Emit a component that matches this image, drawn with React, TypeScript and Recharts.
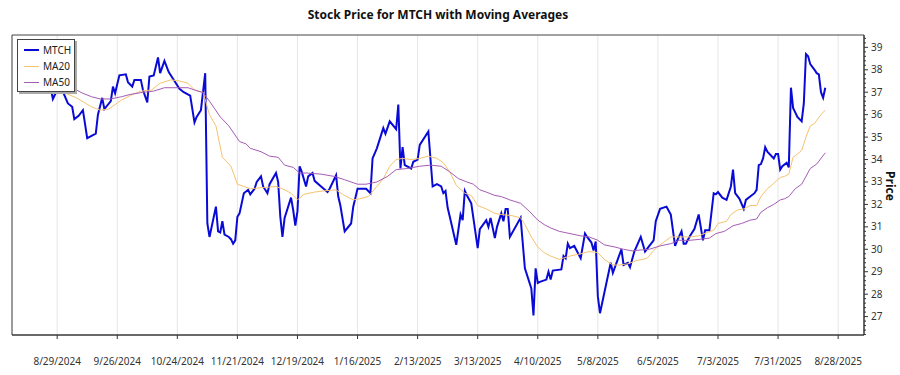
import React from 'react';
import { LineChart, Line, XAxis, YAxis, CartesianGrid, ReferenceArea } from 'recharts';

// MTCH daily close
const mtchDates = [
  '2024-08-26', '2024-08-27', '2024-08-29', '2024-09-01', '2024-09-03', '2024-09-05', '2024-09-06', '2024-09-08',
  '2024-09-10', '2024-09-12', '2024-09-16', '2024-09-17', '2024-09-19', '2024-09-20', '2024-09-23', '2024-09-24',
  '2024-09-25', '2024-09-27', '2024-09-30', '2024-10-01', '2024-10-03', '2024-10-04', '2024-10-07', '2024-10-08',
  '2024-10-10', '2024-10-11', '2024-10-13', '2024-10-15', '2024-10-16', '2024-10-18', '2024-10-20', '2024-10-22',
  '2024-10-25', '2024-10-27', '2024-10-30', '2024-11-01', '2024-11-02', '2024-11-04', '2024-11-06', '2024-11-07',
  '2024-11-08', '2024-11-11', '2024-11-12', '2024-11-13', '2024-11-14', '2024-11-15', '2024-11-17', '2024-11-18',
  '2024-11-19', '2024-11-20', '2024-11-21', '2024-11-22', '2024-11-24', '2024-11-26', '2024-11-27', '2024-11-29',
  '2024-11-30', '2024-12-02', '2024-12-03', '2024-12-05', '2024-12-06', '2024-12-09', '2024-12-10', '2024-12-11',
  '2024-12-12', '2024-12-13', '2024-12-16', '2024-12-17', '2024-12-18', '2024-12-19', '2024-12-20', '2024-12-21',
  '2024-12-23', '2024-12-24', '2024-12-26', '2024-12-27', '2024-12-30', '2025-01-02', '2025-01-03', '2025-01-06',
  '2025-01-07', '2025-01-08', '2025-01-10', '2025-01-13', '2025-01-14', '2025-01-16', '2025-01-20', '2025-01-22',
  '2025-01-23', '2025-01-25', '2025-01-28', '2025-01-29', '2025-01-31', '2025-02-03', '2025-02-04', '2025-02-05',
  '2025-02-06', '2025-02-07', '2025-02-10', '2025-02-11', '2025-02-13', '2025-02-14', '2025-02-18', '2025-02-20',
  '2025-02-22', '2025-02-24', '2025-02-25', '2025-02-26', '2025-02-27', '2025-02-28', '2025-03-03', '2025-03-05',
  '2025-03-06', '2025-03-07', '2025-03-08', '2025-03-10', '2025-03-13', '2025-03-14', '2025-03-17', '2025-03-18',
  '2025-03-19', '2025-03-21', '2025-03-22', '2025-03-24', '2025-03-25', '2025-03-26', '2025-03-27', '2025-03-28',
  '2025-04-02', '2025-04-04', '2025-04-07', '2025-04-08', '2025-04-09', '2025-04-10', '2025-04-11', '2025-04-14',
  '2025-04-15', '2025-04-16', '2025-04-17', '2025-04-21', '2025-04-22', '2025-04-23', '2025-04-24', '2025-04-25',
  '2025-04-27', '2025-04-30', '2025-05-02', '2025-05-03', '2025-05-05', '2025-05-06', '2025-05-07', '2025-05-08',
  '2025-05-09', '2025-05-11', '2025-05-14', '2025-05-15', '2025-05-19', '2025-05-20', '2025-05-22', '2025-05-23',
  '2025-05-25', '2025-05-28', '2025-05-30', '2025-06-01', '2025-06-03', '2025-06-04', '2025-06-06', '2025-06-09',
  '2025-06-11', '2025-06-13', '2025-06-14', '2025-06-16', '2025-06-17', '2025-06-18', '2025-06-20', '2025-06-22',
  '2025-06-24', '2025-06-26', '2025-06-27', '2025-06-29', '2025-07-01', '2025-07-02', '2025-07-03', '2025-07-05',
  '2025-07-07', '2025-07-09', '2025-07-10', '2025-07-11', '2025-07-13', '2025-07-15', '2025-07-16', '2025-07-18',
  '2025-07-20', '2025-07-21', '2025-07-22', '2025-07-23', '2025-07-24', '2025-07-25', '2025-07-26', '2025-07-29',
  '2025-07-30', '2025-07-31', '2025-08-01', '2025-08-02', '2025-08-04', '2025-08-05', '2025-08-06', '2025-08-07',
  '2025-08-08', '2025-08-09', '2025-08-11', '2025-08-12', '2025-08-13', '2025-08-14', '2025-08-15', '2025-08-17',
  '2025-08-18', '2025-08-19', '2025-08-20', '2025-08-21', '2025-08-22',
];
const mtchValues = [
  37.2, 36.7, 37.1, 36.95, 36.5, 36.35, 35.8, 35.95,
  36.2, 34.95, 35.15, 36.0, 36.75, 36.25, 36.6, 37.25,
  36.95, 37.75, 37.8, 37.45, 37.25, 37.55, 37.55, 37.1,
  36.55, 37.7, 37.75, 38.55, 37.85, 38.4, 37.9, 37.6,
  37.15, 37.0, 36.85, 35.65, 35.9, 36.2, 37.85, 31.15,
  30.55, 31.9, 30.8, 30.75, 31.25, 30.65, 30.55, 30.45,
  30.25, 30.4, 31.45, 31.6, 32.5, 32.65, 32.45, 32.7,
  33.0, 33.25, 32.8, 32.5, 32.9, 33.4, 33.0, 31.45,
  30.55, 31.4, 32.3, 31.75, 31.05, 31.7, 33.7, 33.45,
  32.8, 33.25, 33.4, 33.05, 32.8, 32.55, 32.7, 33.3,
  32.35, 31.95, 30.8, 31.15, 31.9, 32.7, 32.7, 32.5,
  34.05, 34.5, 35.4, 35.15, 35.7, 35.35, 36.45, 33.6,
  34.55, 33.75, 33.6, 33.9, 34.0, 34.65, 35.25, 32.8,
  32.9, 32.8, 32.5, 32.6, 31.85, 31.45, 30.2, 31.55,
  31.3, 32.6, 32.4, 32.05, 30.05, 30.9, 31.3, 31.0,
  31.4, 30.5, 31.0, 31.6, 31.25, 31.8, 31.8, 30.55,
  31.4, 29.15, 28.25, 27.05, 29.15, 28.5, 28.55, 28.65,
  29.0, 28.65, 29.05, 29.1, 29.7, 29.6, 30.25, 30.05,
  30.15, 29.6, 30.7, 30.55, 30.3, 29.95, 30.35, 27.9,
  27.15, 28.05, 29.4, 28.95, 30.0, 29.3, 29.4, 29.2,
  29.9, 30.55, 29.9, 30.15, 30.4, 31.25, 31.8, 31.9,
  31.55, 30.15, 30.4, 30.8, 30.25, 30.25, 30.6, 30.9,
  31.55, 30.4, 30.85, 30.85, 32.5, 32.45, 32.55, 32.3,
  32.2, 32.8, 33.55, 32.5, 32.25, 31.8, 32.2, 32.35,
  32.5, 32.65, 33.75, 33.8, 34.05, 34.55, 34.35, 34.05,
  34.25, 34.25, 33.55, 33.7, 33.85, 33.65, 37.2, 36.3,
  36.1, 35.9, 35.7, 36.5, 38.7, 38.6, 38.25, 38.0,
  37.85, 37.8, 37.0, 36.75, 37.2,
];

// 20-day moving average
const ma20Dates = [
  '2024-08-26', '2024-09-02', '2024-09-07', '2024-09-14', '2024-09-18', '2024-09-22', '2024-09-28', '2024-10-02',
  '2024-10-07', '2024-10-12', '2024-10-16', '2024-10-21', '2024-10-25', '2024-10-29', '2024-11-01', '2024-11-05',
  '2024-11-08', '2024-11-11', '2024-11-14', '2024-11-18', '2024-11-21', '2024-11-24', '2024-11-27', '2024-12-03',
  '2024-12-09', '2024-12-13', '2024-12-16', '2024-12-19', '2024-12-22', '2024-12-27', '2024-12-31', '2025-01-06',
  '2025-01-09', '2025-01-11', '2025-01-14', '2025-01-17', '2025-01-21', '2025-01-25', '2025-01-28', '2025-01-31',
  '2025-02-03', '2025-02-06', '2025-02-10', '2025-02-14', '2025-02-18', '2025-02-22', '2025-02-25', '2025-02-28',
  '2025-03-03', '2025-03-07', '2025-03-10', '2025-03-13', '2025-03-17', '2025-03-21', '2025-03-24', '2025-03-29',
  '2025-04-02', '2025-04-04', '2025-04-07', '2025-04-10', '2025-04-13', '2025-04-16', '2025-04-20', '2025-04-25',
  '2025-04-30', '2025-05-04', '2025-05-08', '2025-05-11', '2025-05-15', '2025-05-18', '2025-05-22', '2025-05-26',
  '2025-05-29', '2025-05-31', '2025-06-03', '2025-06-06', '2025-06-11', '2025-06-15', '2025-06-20', '2025-06-24',
  '2025-06-28', '2025-07-01', '2025-07-03', '2025-07-07', '2025-07-09', '2025-07-12', '2025-07-15', '2025-07-18',
  '2025-07-21', '2025-07-23', '2025-07-26', '2025-07-28', '2025-08-01', '2025-08-03', '2025-08-05', '2025-08-07',
  '2025-08-09', '2025-08-11', '2025-08-13', '2025-08-15', '2025-08-17', '2025-08-18', '2025-08-20', '2025-08-22',
];
const ma20Values = [
  37.1, 36.95, 36.75, 36.35, 36.2, 36.25, 36.65, 36.85,
  37.05, 37.1, 37.4, 37.55, 37.5, 37.4, 37.1, 37.0,
  36.0, 35.5, 34.1, 33.7, 32.9, 32.8, 32.7, 32.75,
  32.8, 32.65, 32.5, 32.2, 32.45, 32.55, 32.6, 32.65,
  32.45, 32.35, 32.2, 32.25, 32.35, 32.8, 33.15, 33.7,
  34.0, 34.05, 34.0, 34.05, 34.15, 34.05, 33.85, 33.45,
  32.85, 32.5, 32.4, 31.95, 31.8, 31.6, 31.55, 31.5,
  31.4, 31.1, 30.55, 30.1, 29.85, 29.7, 29.55, 29.7,
  29.8, 29.9, 29.85, 29.55, 29.3, 29.3, 29.35, 29.5,
  29.55, 29.6, 29.95, 30.2, 30.55, 30.55, 30.55, 30.6,
  30.75, 30.85, 31.15, 31.25, 31.55, 31.75, 31.8, 31.95,
  31.95, 32.35, 32.7, 32.85, 33.2, 33.25, 33.35, 34.1,
  34.25, 34.4, 35.0, 35.5, 35.6, 35.75, 36.0, 36.2,
];

// 50-day moving average
const ma50Dates = [
  '2024-08-26', '2024-09-07', '2024-09-10', '2024-09-14', '2024-09-18', '2024-09-23', '2024-09-28', '2024-10-02',
  '2024-10-07', '2024-10-13', '2024-10-18', '2024-10-22', '2024-10-29', '2024-11-01', '2024-11-05', '2024-11-08',
  '2024-11-13', '2024-11-17', '2024-11-22', '2024-11-25', '2024-11-27', '2024-12-02', '2024-12-06', '2024-12-10',
  '2024-12-13', '2024-12-17', '2024-12-20', '2024-12-23', '2024-12-30', '2025-01-05', '2025-01-10', '2025-01-13',
  '2025-01-16', '2025-01-20', '2025-01-25', '2025-01-30', '2025-02-03', '2025-02-08', '2025-02-14', '2025-02-19',
  '2025-02-24', '2025-02-28', '2025-03-04', '2025-03-08', '2025-03-11', '2025-03-14', '2025-03-17', '2025-03-21',
  '2025-03-24', '2025-03-28', '2025-04-02', '2025-04-06', '2025-04-10', '2025-04-13', '2025-04-16', '2025-04-20',
  '2025-04-25', '2025-04-30', '2025-05-04', '2025-05-08', '2025-05-11', '2025-05-16', '2025-05-20', '2025-05-24',
  '2025-05-28', '2025-06-01', '2025-06-06', '2025-06-11', '2025-06-15', '2025-06-20', '2025-06-25', '2025-06-29',
  '2025-07-02', '2025-07-06', '2025-07-10', '2025-07-14', '2025-07-18', '2025-07-21', '2025-07-23', '2025-07-26',
  '2025-07-29', '2025-08-01', '2025-08-03', '2025-08-05', '2025-08-08', '2025-08-11', '2025-08-15', '2025-08-18',
  '2025-08-22',
];
const ma50Values = [
  37.2, 37.1, 36.95, 36.8, 36.7, 36.7, 36.8, 36.9,
  36.98, 37.05, 37.2, 37.2, 37.2, 37.1, 36.98, 36.6,
  35.9, 35.5, 34.8, 34.7, 34.5, 34.35, 34.15, 34.1,
  33.75, 33.65, 33.4, 33.4, 33.35, 33.25, 33.1, 33.0,
  32.9, 32.9, 33.0, 33.25, 33.55, 33.6, 33.7, 33.75,
  33.7, 33.45, 33.15, 33.0, 32.9, 32.65, 32.55, 32.4,
  32.35, 32.2, 32.05, 31.7, 31.3, 31.1, 30.95, 30.8,
  30.7, 30.6, 30.55, 30.4, 30.2, 30.1, 30.0, 29.93,
  29.97, 30.0, 30.15, 30.25, 30.4, 30.4, 30.45, 30.5,
  30.7, 30.8, 31.05, 31.15, 31.3, 31.35, 31.65, 31.85,
  32.0, 32.2, 32.25, 32.35, 32.7, 32.9, 33.6, 33.8,
  34.3,
];

const xTickDates = [
  '2024-08-29', '2024-09-26', '2024-10-24', '2024-11-21', '2024-12-19', '2025-01-16', '2025-02-13',
  '2025-03-13', '2025-04-10', '2025-05-08', '2025-06-05', '2025-07-03', '2025-07-31', '2025-08-28',
];
const yTickValues = [27, 28, 29, 30, 31, 32, 33, 34, 35, 36, 37, 38, 39];

const FONT = '"Noto Sans", "Open Sans", sans-serif';

const toT = (s: string) => Date.parse(s);
const zip = (dates: string[], values: number[]) => dates.map((d, i) => ({ t: toT(d), v: values[i] }));

const series = [
  { name: 'MTCH', color: '#0a0ad6', width: 2, data: zip(mtchDates, mtchValues) },
  { name: 'MA20', color: '#f5c36e', width: 1, data: zip(ma20Dates, ma20Values) },
  { name: 'MA50', color: '#a55cb5', width: 1, data: zip(ma50Dates, ma50Values) },
];

const tFirst = toT(mtchDates[0]);
const tLast = toT(mtchDates[mtchDates.length - 1]);
const pad = (tLast - tFirst) * 0.05;
const xDomain: [number, number] = [tFirst - pad, tLast + pad];
const yDomain: [number, number] = [26.18, 39.55];

// minor ticks every 0.2 on the price axis
const yMinorTicks: number[] = [];
for (let v = 26.2; v < 39.55; v += 0.2) yMinorTicks.push(Math.round(v * 10) / 10);

const fmtDate = (t: number) => {
  const d = new Date(t);
  return `${d.getUTCMonth() + 1}/${d.getUTCDate()}/${d.getUTCFullYear()}`;
};

const PriceTick = (props: any) => {
  const { x, y, payload } = props;
  const v = payload.value;
  const major = yTickValues.some((m) => Math.abs(m - v) < 1e-6);
  return (
    <g>
      <line x1={x} x2={x + (major ? 4 : 2)} y1={y} y2={y} stroke="#333" strokeWidth={1} />
      {major && (
        <text x={x + 7} y={y} dy="0.35em" fontSize={10} fill="#333" fontFamily={FONT}>
          {v}
        </text>
      )}
    </g>
  );
};

export default function App() {
  return (
    <div style={{ position: 'absolute', left: 0, top: 0, width: 900, height: 375, background: '#fff', fontFamily: FONT }}>
      <div style={{ position: 'absolute', left: 0, top: 6, width: 876, textAlign: 'center', fontSize: 12, fontWeight: 700, color: '#111' }}>
        Stock Price for MTCH with Moving Averages
      </div>
      <LineChart width={900} height={375} margin={{ top: 35, right: 6, bottom: 10, left: 12 }}>
        <CartesianGrid horizontal={false} stroke="#e6e6e6" />
        <XAxis
          type="number"
          dataKey="t"
          domain={xDomain}
          allowDataOverflow
          ticks={xTickDates.map(toT)}
          interval={0}
          tickFormatter={fmtDate}
          tickSize={4}
          tickMargin={19}
          height={30}
          stroke="#333"
          tick={{ fontSize: 10, fill: '#333', fontFamily: FONT }}
        />
        <YAxis
          type="number"
          orientation="right"
          domain={yDomain}
          allowDataOverflow
          ticks={yMinorTicks}
          interval={0}
          tickSize={0}
          tickMargin={0}
          tickLine={false}
          width={30}
          stroke="#333"
          tick={<PriceTick />}
        />
        <ReferenceArea x1={xDomain[0]} x2={xDomain[1]} y1={yDomain[0]} y2={yDomain[1]} fill="none" stroke="#444" strokeWidth={1} />
        {series.map((s) => (
          <Line
            key={s.name}
            data={s.data}
            dataKey="v"
            name={s.name}
            type="linear"
            stroke={s.color}
            strokeWidth={s.width}
            dot={false}
            isAnimationActive={false}
          />
        ))}
      </LineChart>
      <div
        style={{
          position: 'absolute', left: 860, top: 178, width: 60, height: 16, lineHeight: '16px', textAlign: 'center',
          transform: 'rotate(90deg)', fontSize: 12, fontWeight: 700, color: '#111',
        }}
      >
        Price
      </div>
      <div
        style={{
          position: 'absolute', left: 17, top: 39, width: 58, height: 53, boxSizing: 'border-box', background: '#fff',
          border: '1px solid #444', boxShadow: '2px 2px 0 #aaa', paddingTop: 2,
        }}
      >
        {series.map((s) => (
          <div key={s.name} style={{ position: 'relative', height: 16, fontSize: 10, color: '#222' }}>
            <div style={{ position: 'absolute', left: 6, top: 8 - s.width / 2, width: 15, height: s.width, background: s.color }} />
            <div style={{ position: 'absolute', left: 25, top: 1, lineHeight: '14px' }}>{s.name}</div>
          </div>
        ))}
      </div>
    </div>
  );
}
